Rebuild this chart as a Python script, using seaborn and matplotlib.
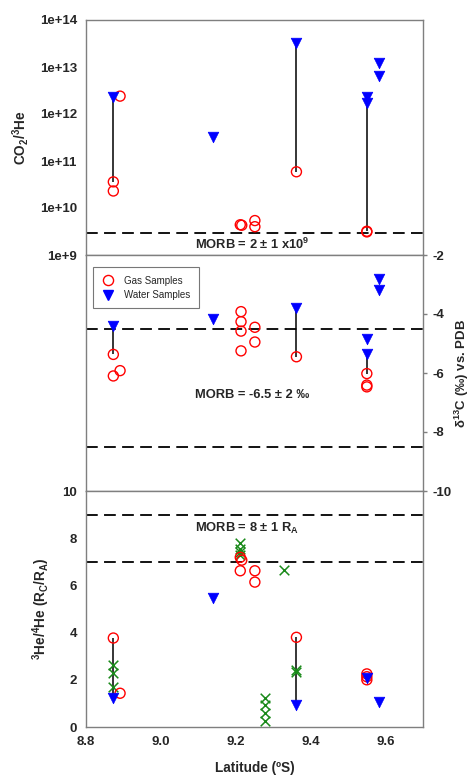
import numpy as np
import matplotlib
matplotlib.use("Agg")
import matplotlib.pyplot as plt
from matplotlib.ticker import FixedLocator, FuncFormatter, NullLocator
import seaborn as sns

sns.set_theme(style="white")
plt.rcParams["font.family"] = ["Liberation Sans", "DejaVu Sans"]
plt.rcParams["mathtext.fontset"] = "custom"
plt.rcParams["mathtext.rm"] = "Liberation Sans"
plt.rcParams["mathtext.bf"] = "Liberation Sans:bold"
plt.rcParams["mathtext.default"] = "bf"
plt.rcParams["axes.unicode_minus"] = False

# ---- CO2/3He (log scale) ----
gas_lat_co2 = [8.873, 8.873, 8.891, 9.212, 9.216, 9.251, 9.251, 9.362, 9.550, 9.550]
gas_co2 = [3.6e10, 2.3e10, 2.4e12, 4.4e9, 4.3e9, 5.4e9, 4.0e9, 5.9e10, 3.2e9, 3.1e9]
water_lat_co2 = [8.873, 9.138, 9.362, 9.550, 9.550, 9.582, 9.582]
water_co2 = [2.3e12, 3.2e11, 3.3e13, 2.3e12, 1.7e12, 1.2e13, 6.5e12]
link_lat_co2 = [8.873, 9.362, 9.550]
link_lo_co2 = [3.6e10, 5.9e10, 3.2e9]
link_hi_co2 = [2.3e12, 3.3e13, 1.7e12]
morb_co2 = [3e9]

# ---- d13C ----
gas_lat_c = [8.873, 8.873, 8.891, 9.214, 9.214, 9.214, 9.214, 9.251, 9.251, 9.362, 9.550, 9.550, 9.550]
gas_c = [-5.37, -6.10, -5.92, -3.92, -4.26, -4.58, -5.25, -4.45, -4.95, -5.45, -6.02, -6.41, -6.47]
water_lat_c = [8.873, 9.138, 9.362, 9.550, 9.550, 9.582, 9.582]
water_c = [-4.42, -4.18, -3.81, -4.85, -5.37, -2.82, -3.19]
link_lat_c = [8.873, 9.362, 9.550]
link_lo_c = [-5.37, -5.45, -6.02]
link_hi_c = [-4.42, -3.81, -5.37]
morb_c = [-4.5, -8.5]

# ---- 3He/4He ----
gas_lat_he = [8.873, 8.891, 9.212, 9.216, 9.212, 9.251, 9.251, 9.362, 9.550, 9.550, 9.550]
gas_he = [3.77, 1.43, 7.19, 7.07, 6.62, 6.62, 6.14, 3.80, 2.25, 2.13, 2.00]
water_lat_he = [8.873, 9.138, 9.362, 9.550, 9.582]
water_he = [1.24, 5.45, 0.95, 2.06, 1.05]
other_lat_he = [8.873, 8.873, 8.873, 9.212, 9.212, 9.212, 9.212,
                9.329, 9.362, 9.362, 9.278, 9.278, 9.278, 9.278]
other_he = [2.63, 2.30, 1.68, 7.78, 7.55, 7.42, 7.29,
            6.65, 2.42, 2.34, 1.22, 0.93, 0.60, 0.25]
link_lat_he = [8.873, 9.362]
link_lo_he = [1.24, 0.95]
link_hi_he = [3.77, 3.80]
morb_he = [7.0, 9.0]

lat_ticks = [8.8, 9.0, 9.2, 9.4, 9.6]

fig = plt.figure(figsize=(4.73, 7.75), dpi=100)
L, W = 86 / 473, 337 / 473
ax_top = fig.add_axes([L, 1 - 255 / 775, W, 235 / 775])
ax_mid = fig.add_axes([L, 1 - 491 / 775, W, 236 / 775])
ax_bot = fig.add_axes([L, 1 - 727 / 775, W, 236 / 775])

RED, BLUE, GREEN = "#ff0000", "#0000ff", "#1a8a1a"
SPINE = "#7f7f7f"
dash = (0, (6.5, 3.5))
TICK_FS = 9.5
LABEL_FS = 9.8
NOTE_FS = 9.3


def gas(ax, x, y):
    sns.scatterplot(x=x, y=y, ax=ax, marker="o", s=52, facecolors="none",
                    edgecolor=RED, linewidth=1.0, zorder=4)


def water(ax, x, y):
    sns.scatterplot(x=x, y=y, ax=ax, marker="v", s=58, color=BLUE,
                    edgecolor=BLUE, linewidth=0.5, zorder=5)


def links(ax, x, lo, hi):
    ax.vlines(x, lo, hi, color="black", linewidth=1.1, zorder=3)


for ax in (ax_top, ax_mid, ax_bot):
    ax.set_xlim(8.8, 9.7)
    ax.xaxis.set_major_locator(FixedLocator(lat_ticks))
    ax.xaxis.set_minor_locator(NullLocator())
    for s in ax.spines.values():
        s.set_color(SPINE)
        s.set_linewidth(1.0)
    ax.tick_params(axis="both", which="major", direction="out", length=3,
                   width=1.0, color=SPINE, pad=3.5, labelsize=TICK_FS)
    ax.set_facecolor("white")

# Top panel
ax_top.set_yscale("log")
links(ax_top, link_lat_co2, link_lo_co2, link_hi_co2)
gas(ax_top, gas_lat_co2, gas_co2)
water(ax_top, water_lat_co2, water_co2)
for v in morb_co2:
    ax_top.axhline(v, color="black", linestyle=dash, linewidth=1.3, zorder=2)
ax_top.set_ylim(1e9, 1e14)
ax_top.yaxis.set_major_locator(FixedLocator([1e9, 1e10, 1e11, 1e12, 1e13, 1e14]))
ax_top.yaxis.set_minor_locator(NullLocator())
ax_top.yaxis.set_major_formatter(FuncFormatter(lambda v, p: f"1e+{int(round(np.log10(v)))}"))
ax_top.tick_params(axis="x", labelbottom=False)
ax_top.text(9.09, 1.34e9, r"MORB = 2 ± 1 x10$^{9}$", fontsize=NOTE_FS,
            fontweight="bold", va="baseline", ha="left")
ax_top.set_ylabel(r"CO$_{2}$/$^{3}$He", fontsize=LABEL_FS, fontweight="bold")
ax_top.yaxis.set_label_coords(-0.163, 0.5)

# Middle panel
links(ax_mid, link_lat_c, link_lo_c, link_hi_c)
gas(ax_mid, gas_lat_c, gas_c)
water(ax_mid, water_lat_c, water_c)
for v in morb_c:
    ax_mid.axhline(v, color="black", linestyle=dash, linewidth=1.3, zorder=2)
ax_mid.set_ylim(-10, -2)
ax_mid.yaxis.tick_right()
ax_mid.yaxis.set_label_position("right")
ax_mid.yaxis.set_major_locator(FixedLocator([-10, -8, -6, -4, -2]))
ax_mid.tick_params(axis="x", labelbottom=False)
ax_mid.text(9.09, -6.85, "MORB = -6.5 ± 2 ‰", fontsize=NOTE_FS,
            fontweight="bold", va="baseline", ha="left")
ax_mid.set_ylabel(r"δ$^{13}$C (‰) vs. PDB", fontsize=9.5, fontweight="bold",
                  rotation=90)
ax_mid.yaxis.set_label_coords(1.088, 0.5)
leg_handles = [
    plt.Line2D([], [], marker="o", linestyle="none", markersize=7.3,
               markerfacecolor="none", markeredgecolor=RED, markeredgewidth=1.0,
               label="Gas Samples"),
    plt.Line2D([], [], marker="v", linestyle="none", markersize=7.6,
               color=BLUE, label="Water Samples"),
]
leg = ax_mid.legend(handles=leg_handles, loc="upper left",
                    bbox_to_anchor=(0.02, 0.948), borderaxespad=0,
                    fontsize=7, frameon=True, fancybox=False,
                    handletextpad=0.9, borderpad=0.85, labelspacing=0.45,
                    handlelength=1.5)
leg.get_frame().set_edgecolor("#555555")
leg.get_frame().set_linewidth(0.8)

# Bottom panel
links(ax_bot, link_lat_he, link_lo_he, link_hi_he)
sns.scatterplot(x=other_lat_he, y=other_he, ax=ax_bot, marker="x", s=48,
                color=GREEN, linewidth=1.1, zorder=4)
gas(ax_bot, gas_lat_he, gas_he)
water(ax_bot, water_lat_he, water_he)
for v in morb_he:
    ax_bot.axhline(v, color="black", linestyle=dash, linewidth=1.3, zorder=2)
ax_bot.set_ylim(0, 10)
ax_bot.yaxis.set_major_locator(FixedLocator([0, 2, 4, 6, 8, 10]))
ax_bot.text(9.09, 8.26, r"MORB = 8 ± 1 R$_{A}$", fontsize=NOTE_FS,
            fontweight="bold", va="baseline", ha="left")
ax_bot.set_ylabel(r"$^{3}$He/$^{4}$He (R$_{C}$/R$_{A}$)", fontsize=LABEL_FS,
                  fontweight="bold")
ax_bot.yaxis.set_label_coords(-0.10, 0.5)
ax_bot.set_xlabel("Latitude (ºS)", fontsize=LABEL_FS, fontweight="bold")
ax_bot.xaxis.set_label_coords(0.5, -0.145)
ax_bot.xaxis.set_major_formatter(FuncFormatter(lambda v, p: f"{v:.1f}"))

for ax in (ax_top, ax_mid, ax_bot):
    for lab in ax.get_xticklabels() + ax.get_yticklabels():
        lab.set_fontweight("bold")

fig.savefig("out.png", dpi=100, facecolor="white")
